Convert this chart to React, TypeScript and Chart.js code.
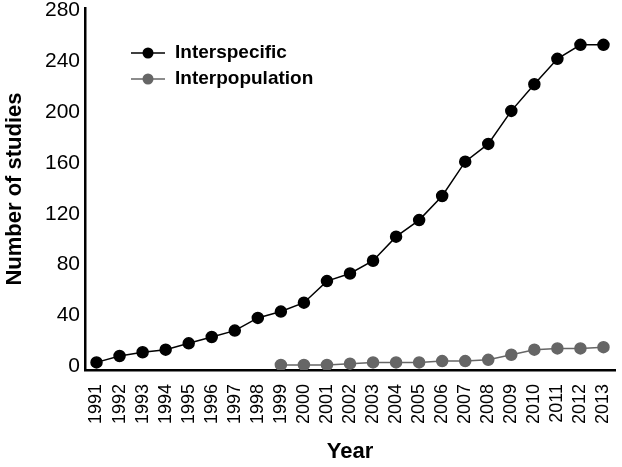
import React, { useEffect, useRef } from "react";
import { Chart, registerables } from "chart.js";

Chart.register(...registerables);

const years = [
  "1991", "1992", "1993", "1994", "1995", "1996", "1997", "1998", "1999", "2000",
  "2001", "2002", "2003", "2004", "2005", "2006", "2007", "2008", "2009", "2010",
  "2011", "2012", "2013",
];

const interspecific = [
  3, 8, 11, 13, 18, 23, 28, 38, 43, 50, 67, 73, 83, 102, 115, 134, 161, 175, 201, 222, 242, 253, 253,
];

const interpopulation = [
  null, null, null, null, null, null, null, null, 1, 1, 1, 2, 3, 3, 3, 4, 4, 5, 9, 13, 14, 14, 15,
];

const seriesNames = ["Interspecific", "Interpopulation"];
const seriesColors = ["#000000", "#666666"];

const FONT = "'Liberation Sans', Arial, Helvetica, sans-serif";

const legendPlugin = {
  id: "lineMarkerLegend",
  afterDraw(chart: any) {
    const { ctx, chartArea } = chart;
    const x0 = chartArea.left + 46;
    const y0 = chartArea.top + 45;
    ctx.save();
    chart.data.datasets.forEach((ds: any, i: number) => {
      const y = y0 + i * 26;
      ctx.strokeStyle = ds.borderColor;
      ctx.lineWidth = 1.5;
      ctx.beginPath();
      ctx.moveTo(x0, y);
      ctx.lineTo(x0 + 34, y);
      ctx.stroke();
      ctx.fillStyle = ds.pointBackgroundColor;
      ctx.beginPath();
      ctx.arc(x0 + 17, y, 5.5, 0, Math.PI * 2);
      ctx.fill();
      ctx.fillStyle = "#000";
      ctx.font = `bold 19px ${FONT}`;
      ctx.textAlign = "left";
      ctx.textBaseline = "middle";
      ctx.fillText(ds.label, x0 + 44, y);
    });
    ctx.restore();
  },
};

export default function App() {
  const ref = useRef<HTMLCanvasElement | null>(null);

  useEffect(() => {
    document.body.style.margin = "0";
    const canvas = ref.current;
    if (!canvas) return;
    const chart = new Chart(canvas, {
      type: "line",
      data: {
        labels: years,
        datasets: [
          {
            label: seriesNames[0],
            data: interspecific,
            borderColor: seriesColors[0],
            backgroundColor: seriesColors[0],
            pointBackgroundColor: seriesColors[0],
            pointBorderColor: seriesColors[0],
            pointRadius: 5.5,
            borderWidth: 1.5,
            tension: 0,
          },
          {
            label: seriesNames[1],
            data: interpopulation,
            borderColor: seriesColors[1],
            backgroundColor: seriesColors[1],
            pointBackgroundColor: seriesColors[1],
            pointBorderColor: seriesColors[1],
            pointRadius: 5.5,
            borderWidth: 1.5,
            tension: 0,
          },
        ],
      },
      options: {
        animation: false,
        responsive: false,
        maintainAspectRatio: false,
        layout: { padding: { top: 8, right: 4, left: 0, bottom: 0 } },
        plugins: {
          legend: { display: false },
          tooltip: { enabled: false },
        },
        scales: {
          x: {
            type: "category",
            offset: true,
            grid: { display: false, drawTicks: false },
            border: { display: true, color: "#000", width: 2.5 },
            ticks: {
              maxRotation: 90,
              minRotation: 90,
              autoSkip: false,
              padding: 14,
              color: "#000",
              font: { family: FONT, size: 18 },
            },
            title: {
              display: true,
              text: "Year",
              color: "#000",
              font: { family: FONT, size: 22, weight: "bold" },
              padding: { top: 4, bottom: 2 },
            },
            afterFit(scale: any) {
              scale.height = 97;
              scale.paddingLeft = 0;
              scale.paddingRight = 0;
            },
          },
          y: {
            min: -3,
            max: 282,
            grid: { display: false, drawTicks: false },
            border: { display: true, color: "#000", width: 2.5 },
            ticks: {
              stepSize: 40,
              includeBounds: false,
              padding: 5,
              color: "#000",
              font: { family: FONT, size: 21 },
            },
            afterBuildTicks(scale: any) {
              scale.ticks = scale.ticks.filter((t: any) => t.value >= 0 && t.value <= 280);
            },
            title: {
              display: true,
              text: "Number of studies",
              color: "#000",
              font: { family: FONT, size: 22, weight: "bold" },
              padding: { top: 2, bottom: 4 },
            },
            afterFit(scale: any) {
              scale.width = 85;
              scale.paddingTop = 0;
              scale.paddingBottom = 0;
            },
          },
        },
      },
      plugins: [legendPlugin],
    });
    return () => chart.destroy();
  }, []);

  return (
    <div style={{ position: "absolute", left: 0, top: 0, width: 622, height: 467, background: "#fff" }}>
      <canvas ref={ref} width={622} height={467} style={{ width: 622, height: 467 }} />
    </div>
  );
}
